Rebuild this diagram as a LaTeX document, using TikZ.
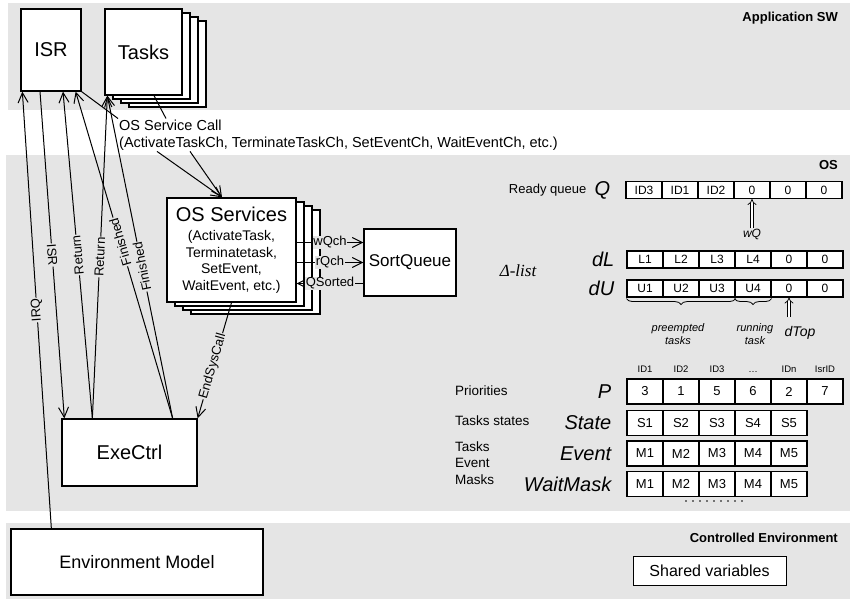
\documentclass[tikz,border=0pt]{standalone}
\usepackage{fontspec}
\setmainfont{Liberation Sans}
\newfontfamily\timesfont{Liberation Serif}
\usetikzlibrary{%
  positioning,
  shadows,
  arrows.meta,
  decorations.pathreplacing,
}

\begin{document}
\begin{tikzpicture}[%
           x=1pt, y=-1pt,
           layer/.style={
             % The filling:
             fill=black!10,
             draw=none,
           },
           layername/.style={
             anchor=east,
             inner sep=0pt,
             font=\fontsize{13}{15}\selectfont\bfseries,
           },
           block/.style={
             % The shape:
             rectangle,
             inner sep=0pt,
             % The border:
             draw=black,
             line width=1.3pt,
             % The filling:
             fill=white,
             font=\fontsize{20}{24}\selectfont,
           },
           stack/.style={
             % three copies behind the box,
             % each a bit lower and more to the right
             copy shadow={shadow xshift=24pt, shadow yshift=-12pt,
                          fill=white, draw=black, line width=1.3pt},
             copy shadow={shadow xshift=16pt, shadow yshift=-8pt,
                          fill=white, draw=black, line width=1.3pt},
             copy shadow={shadow xshift=8pt, shadow yshift=-4pt,
                          fill=white, draw=black, line width=1.3pt},
           },
           cell/.style={
             rectangle,
             inner sep=0pt,
             draw=black,
             line width=1.1pt,
             fill=white,
             minimum width=36pt,
             minimum height=17pt,
             font=\fontsize{12}{14}\selectfont,
           },
           tall/.style={
             minimum height=25pt,
             font=\fontsize{13}{15}\selectfont,
           },
           var/.style={
             inner sep=0pt,
             font=\fontsize{20}{24}\selectfont\itshape,
           },
           note/.style={
             inner sep=0pt,
             font=\fontsize{13.5}{16.5}\selectfont,
           },
           call/.style={
             -{Straight Barb[length=10pt,width=10pt]},
             line width=1pt,
           },
           link/.style={
             line width=1pt,
           },
           tag/.style={
             fill=black!10,
             inner sep=0.8pt,
             font=\fontsize{13}{15}\selectfont,
           },
           flowlabel/.style={
             tag,
             sloped,
             allow upside down,
           },
           pointer/.style={
             double,
             double distance=2.4pt,
             line width=0.7pt,
             -{Implies},
           },
           brace/.style={
             decorate,
             decoration={brace, mirror, amplitude=6pt, raise=1pt},
             line width=0.8pt,
           },
         ]
         \useasboundingbox (0,0) rectangle (850,599);

         % the three layers
         \fill[layer] (8,3) rectangle (850,110);
         \fill[layer] (6,155) rectangle (850,511);
         \fill[layer] (6,523) rectangle (850,599);
         \node[layername] (appname) at (838,18) {Application SW};
         \node[layername] (osname) at (838,165) {OS};
         \node[layername] (envname) at (838,538) {Controlled Environment};

         % application
         \node[block, minimum width=60pt, minimum height=82pt] (isr) at (51,50) {ISR};
         \node[block, stack, minimum width=77pt, minimum height=86pt] (tasks) at (143.5,52) {Tasks};
         \node[note, anchor=north west, align=left, inner sep=1pt,
               font=\fontsize{14.5}{17}\selectfont] (svc) at (118,118.5)
           {OS Service Call\\(ActivateTaskCh, TerminateTaskCh, SetEventCh, WaitEventCh, etc.)};

         % os
         \node[block, stack, minimum width=129pt, minimum height=104pt, align=center,
               font=\fontsize{14}{16.5}\selectfont] (os) at (231.5,250)
           {{\fontsize{20}{22}\selectfont OS Services}\\[3pt](ActivateTask,\\Terminatetask,\\SetEvent,\\WaitEvent, etc.)};
         \node[block, minimum width=92pt, minimum height=67pt, font=\fontsize{17}{20}\selectfont] (sortq) at (410,262.5) {SortQueue};
         \node[block, minimum width=135pt, minimum height=67pt] (exe) at (129.5,452.5) {ExeCtrl};

         % environment
         \node[block, minimum width=252pt, minimum height=66pt, font=\fontsize{18}{22}\selectfont] (env) at (137,562) {Environment Model};
         \node[block, line width=1pt, minimum width=153pt, minimum height=29pt, font=\fontsize{16}{19}\selectfont] (shared) at (709.5,570.5) {Shared variables};

         % service calls
         \draw[link] (isr.south east) -- (svc.north west);
         \draw[link] ([xshift=10.5pt]tasks.south) -- ([xshift=48pt]svc.north west);
         \draw[call] ([xshift=39pt]svc.south west) -- ([xshift=-9.5pt]os.north);
         \draw[call] ([xshift=72pt]svc.south west) -- ([xshift=-9.5pt]os.north);

         % queue channels
         \coordinate (wqin) at ([yshift=20pt]sortq.west);
         \coordinate (rqin) at (sortq.west);
         \coordinate (qsout) at ([yshift=-21pt]sortq.west);
         \draw[call] (wqin -| os.east) -- (wqin) node[tag, midway] {wQch};
         \draw[call] (rqin -| os.east) -- (rqin) node[tag, midway] {rQch};
         \draw[call] (qsout) -- (qsout -| os.east) node[tag, midway] {QSorted};
         \draw[call] (os.south) -- (exe.north east) node[tag, sloped, pos=0.55] {EndSysCall};

         % control flow
         \draw[call] ([xshift=41pt]env.north west) -- ([xshift=2pt]isr.south west) node[flowlabel, pos=0.5] {IRQ};
         \draw[call] ([xshift=-11pt]isr.south) -- ([xshift=3pt]exe.north west) node[flowlabel, pos=0.5] {ISR};
         \draw[call] ([xshift=31pt]exe.north west) -- ([xshift=12pt]isr.south) node[flowlabel, pos=0.5] {Return};
         \draw[call] ([xshift=31pt]exe.north west) -- ([xshift=3pt]tasks.south west) node[flowlabel, pos=0.5] {Return};
         \draw[call] ([xshift=-25pt]exe.north east) -- ([xshift=-6pt]isr.south east) node[flowlabel, pos=0.54] {Finished};
         \draw[call] ([xshift=-25pt]exe.north east) -- ([xshift=3pt]tasks.south west) node[flowlabel, pos=0.47] {Finished};

         % ready queue
         \foreach \v [count=\i] in {ID3,ID1,ID2,0,0,0}
           \node[cell] (q\i) at ({608+36*\i},190) {\v};
         \node[var, left=15pt of q1] (qname) {Q};
         \node[note, font=\fontsize{13}{15}\selectfont, left=8pt of qname] (readyname) {Ready queue};
         \node[note, font=\fontsize{12}{14}\selectfont\itshape] (wq) at (752,234) {wQ};
         \draw[pointer] (wq) -- (q4);

         % delta list
         \foreach \v [count=\i] in {L1,L2,L3,L4,0,0}
           \node[cell] (dl\i) at ({609+36*\i},259.5) {\v};
         \foreach \v [count=\i] in {U1,U2,U3,U4,0,0}
           \node[cell] (du\i) at ({609+36*\i},288.5) {\v};
         \node[var, left=12pt of dl1] (dlname) {dL};
         \node[var, left=12pt of du1] (duname) {dU};
         \node[inner sep=0pt, font=\fontsize{17}{20}\selectfont\timesfont\itshape] (deltaname) at (518,271) {Δ-list};
         \draw[brace] (du1.south west) -- (du3.south east);
         \draw[brace] (du4.south west) -- (du4.south east);
         \node[note, align=center, font=\fontsize{11}{12.5}\selectfont\itshape] (preempt) at (678,334) {preempted\\tasks};
         \node[note, align=center, font=\fontsize{11}{12.5}\selectfont\itshape] (running) at (755,334) {running\\task};
         \node[note, font=\fontsize{14}{16}\selectfont\itshape] (dtop) at (800,333) {dTop};
         \coordinate (dtopfoot) at (789,317);
         \draw[pointer] (dtopfoot) -- (du5);

         % task tables
         \foreach \v [count=\i] in {3,1,5,6,2,7}
           \node[cell, tall] (p\i) at ({609+36*\i},391.5) {\v};
         \foreach \v [count=\i] in {ID1,ID2,ID3,\ldots,IDn,IsrID}
           \node[note, font=\fontsize{9.5}{11}\selectfont, above=6pt of p\i] (id\i) {\v};
         \foreach \v [count=\i] in {S1,S2,S3,S4,S5}
           \node[cell, tall] (st\i) at ({609+36*\i},423) {\v};
         \foreach \v [count=\i] in {M1,M2,M3,M4,M5}
           \node[cell, tall] (ev\i) at ({609+36*\i},453.5) {\v};
         \foreach \v [count=\i] in {M1,M2,M3,M4,M5}
           \node[cell, tall] (wm\i) at ({609+36*\i},484) {\v};
         \node[var, left=15pt of p1] (pname) {P};
         \node[var, left=15pt of st1] (statename) {State};
         \node[var, left=15pt of ev1] (eventname) {Event};
         \node[var, left=15pt of wm1] (waitname) {WaitMask};
         \node[note, anchor=west] (prioname) at (455,391) {Priorities};
         \node[note, anchor=west] (statesname) at (455,421) {Tasks states};
         \node[note, anchor=west, align=left] (masksname) at (455,463) {Tasks\\Event\\Masks};
         \foreach \i in {0,...,8}
           \fill ({686+7*\i},501) circle (0.9);

     \end{tikzpicture}
\end{document}
